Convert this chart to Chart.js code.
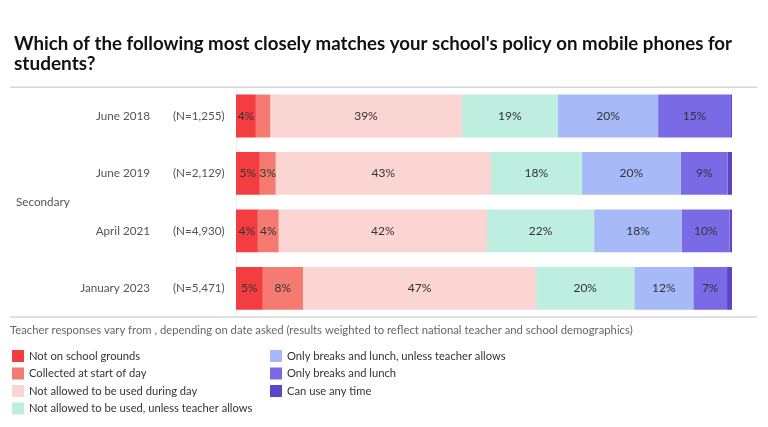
<!DOCTYPE html>
<html>
<head>
<meta charset="utf-8">
<script src="https://cdn.jsdelivr.net/npm/chart.js@4.4.1/dist/chart.umd.min.js"></script>
<style>
  html, body { margin: 0; padding: 0; background: #fff; }
  #wrap { width: 768px; height: 427px; position: relative; }
</style>
</head>
<body>
<div id="wrap"><canvas id="policyChart"></canvas></div>
<script>
// survey waves (secondary teachers)
const waves = ['June 2018', 'June 2019', 'April 2021', 'January 2023'];
const sampleSizes = ['(N=1,255)', '(N=2,129)', '(N=4,930)', '(N=5,471)'];
const groupLabel = 'Secondary';

// % of responses per policy, same order as waves
const notOnGrounds = [4.0, 4.8, 4.4, 5.4];
const collectedAtStart = [2.9, 3.2, 4.2, 8.1];
const notDuringDay = [38.6, 43.4, 42.0, 47.0];
const notUnlessTeacher = [19.4, 18.3, 21.6, 19.8];
const breaksUnlessTeacher = [20.2, 20.0, 17.7, 11.9];
const breaksAndLunch = [14.7, 9.4, 9.6, 6.8];
const anyTime = [0.2, 0.9, 0.5, 1.0];

const policyLabels = [
  'Not on school grounds',
  'Collected at start of day',
  'Not allowed to be used during day',
  'Not allowed to be used, unless teacher allows',
  'Only breaks and lunch, unless teacher allows',
  'Only breaks and lunch',
  'Can use any time'
];
const policyColors = ['#f43d40', '#f57a72', '#fad5d2', '#bdeedf', '#a7b9f7', '#7b6ae6', '#5a46c6'];

const titleLines = [
  "Which of the following most closely matches your school's policy on mobile phones for",
  'students?'
];
const note = 'Teacher responses vary from , depending on date asked (results weighted to reflect national teacher and school demographics)';

Chart.defaults.font.family = 'Lato';

const series = [notOnGrounds, collectedAtStart, notDuringDay, notUnlessTeacher, breaksUnlessTeacher, breaksAndLunch, anyTime];

// labels, rules, value text and legend drawn straight on the canvas
const extrasPlugin = {
  id: 'extras',
  afterDatasetsDraw(chart) {
    const ctx = chart.ctx;
    const area = chart.chartArea;
    const y = chart.scales.y;
    ctx.save();

    // segment values
    ctx.font = '12px Lato';
    ctx.fillStyle = '#333';
    ctx.textAlign = 'center';
    ctx.textBaseline = 'middle';
    chart.data.datasets.forEach((ds, i) => {
      chart.getDatasetMeta(i).data.forEach((bar, j) => {
        const v = ds.data[j];
        if (v < 3) return;
        const p = bar.getProps(['x', 'base', 'y'], true);
        ctx.fillText(Math.round(v) + '%', (p.x + p.base) / 2, p.y);
      });
    });

    // row labels
    ctx.fillStyle = '#555';
    ctx.font = '11.7px Lato';
    waves.forEach((w, j) => {
      const py = y.getPixelForValue(j);
      ctx.textAlign = 'right';
      ctx.fillText(w, 150, py);
      ctx.textAlign = 'left';
      ctx.fillText(sampleSizes[j], 173, py);
    });
    ctx.textAlign = 'left';
    ctx.fillText(groupLabel, 16, (y.getPixelForValue(1) + y.getPixelForValue(2)) / 2);

    // top and bottom rules
    ctx.strokeStyle = '#d6d6d6';
    ctx.lineWidth = 1.5;
    ctx.beginPath();
    ctx.moveTo(10, area.top); ctx.lineTo(757, area.top);
    ctx.moveTo(10, area.bottom); ctx.lineTo(757, area.bottom);
    ctx.stroke();

    // note
    ctx.fillStyle = '#666';
    ctx.font = '11.3px Lato';
    ctx.fillText(note, 10, area.bottom + 13);

    // legend in two columns
    ctx.font = '11.2px Lato';
    chart.data.datasets.forEach((ds, i) => {
      const col = i < 4 ? 0 : 1;
      const row = i < 4 ? i : i - 4;
      const lx = col === 0 ? 12 : 270;
      const ly = area.bottom + 39 + row * 17.5;
      ctx.fillStyle = ds.backgroundColor;
      ctx.fillRect(lx, ly - 6, 12, 12);
      ctx.fillStyle = '#333';
      ctx.fillText(ds.label, lx + 17, ly);
    });
    ctx.restore();
  }
};

new Chart(document.getElementById('policyChart'), {
  type: 'bar',
  data: {
    labels: waves,
    datasets: series.map((d, i) => ({
      label: policyLabels[i],
      data: d,
      backgroundColor: policyColors[i],
      borderWidth: 0,
      categoryPercentage: 1,
      barPercentage: 0.745
    }))
  },
  options: {
    indexAxis: 'y',
    responsive: true,
    maintainAspectRatio: false,
    animation: false,
    layout: { padding: { left: 14, right: 36, top: 0, bottom: 110 } },
    scales: {
      x: { stacked: true, min: 0, max: 100, display: false },
      y: {
        stacked: true,
        ticks: { display: false },
        grid: { display: false },
        border: { display: true, color: '#eeeeee' },
        afterFit(scale) { scale.width = 222; }
      }
    },
    plugins: {
      legend: { display: false },
      tooltip: { enabled: false },
      title: {
        display: true,
        align: 'start',
        text: titleLines,
        color: '#111',
        font: { family: 'Lato', size: 19, weight: 'bold', lineHeight: 1.06 },
        padding: { top: 34, bottom: 13 }
      }
    }
  },
  plugins: [extrasPlugin]
});
</script>
</body>
</html>
